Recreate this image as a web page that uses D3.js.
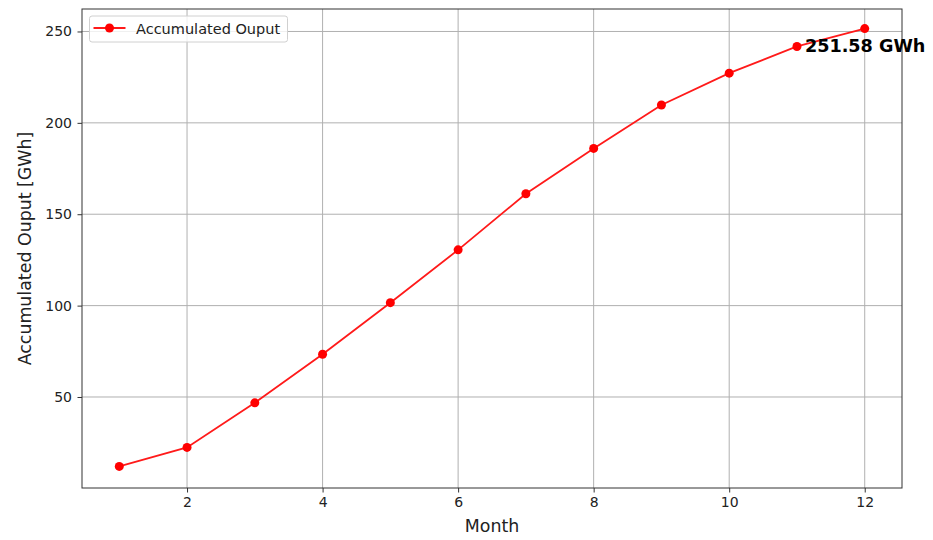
<!DOCTYPE html>
<html>
<head>
<meta charset="utf-8">
<script src="https://cdn.jsdelivr.net/npm/d3@7"></script>
<style>
  html, body { margin: 0; padding: 0; background: #fff; }
  svg { display: block; font-family: "DejaVu Sans", sans-serif; }
</style>
</head>
<body>
<svg id="chart" width="933" height="540"></svg>
<script>
// Monthly accumulated output (GWh)
const months = [1, 2, 3, 4, 5, 6, 7, 8, 9, 10, 11, 12];
const accumulated = [12.0, 22.4, 46.8, 73.4, 101.6, 130.5, 161.2, 186.0, 209.8, 227.2, 241.8, 251.58];
const xTicks = [2, 4, 6, 8, 10, 12];
const yTicks = [50, 100, 150, 200, 250];
const seriesName = "Accumulated Ouput";
const totalLabel = "251.58 GWh";

const svg = d3.select("#chart");
const plot = { left: 82, right: 902, top: 9, bottom: 488 };

const x = d3.scaleLinear().domain([0.45, 12.55]).range([plot.left, plot.right]);
const y = d3.scaleLinear().domain([0.2, 262.3]).range([plot.bottom, plot.top]);

// grid
const grid = svg.append("g").attr("stroke", "#b0b0b0").attr("stroke-width", 1);
grid.selectAll(".gx").data(xTicks).join("line")
  .attr("x1", d => x(d)).attr("x2", d => x(d))
  .attr("y1", plot.top).attr("y2", plot.bottom);
grid.selectAll(".gy").data(yTicks).join("line")
  .attr("x1", plot.left).attr("x2", plot.right)
  .attr("y1", d => y(d)).attr("y2", d => y(d));

// axes
const xAxis = svg.append("g")
  .attr("transform", `translate(0,${plot.bottom})`)
  .call(d3.axisBottom(x).tickValues(xTicks).tickSize(4.5).tickPadding(5));
const yAxis = svg.append("g")
  .attr("transform", `translate(${plot.left},0)`)
  .call(d3.axisLeft(y).tickValues(yTicks).tickSize(4.5).tickPadding(5.5));
[xAxis, yAxis].forEach(a => {
  a.select(".domain").remove();
  a.selectAll("line").attr("stroke", "#333");
  a.selectAll("text").attr("fill", "#222").style("font-size", "14px")
    .style("font-family", "DejaVu Sans, sans-serif");
});

// frame
svg.append("rect")
  .attr("x", plot.left).attr("y", plot.top)
  .attr("width", plot.right - plot.left).attr("height", plot.bottom - plot.top)
  .attr("fill", "none").attr("stroke", "#333").attr("stroke-width", 1);

// series
const line = d3.line().x((d, i) => x(months[i])).y(d => y(d));
svg.append("path").datum(accumulated)
  .attr("d", line).attr("fill", "none")
  .attr("stroke", "#ff1a1a").attr("stroke-width", 1.8);
svg.selectAll(".pt").data(accumulated).join("circle")
  .attr("cx", (d, i) => x(months[i])).attr("cy", d => y(d))
  .attr("r", 4.5).attr("fill", "red");

// total annotation beside month 11
svg.append("text")
  .attr("x", x(11) + 8).attr("y", y(accumulated[10]))
  .attr("dominant-baseline", "central")
  .style("font-size", "17.6px").style("font-weight", "bold")
  .attr("fill", "#000").text(totalLabel);

// axis titles
svg.append("text")
  .attr("x", (plot.left + plot.right) / 2).attr("y", 532)
  .attr("text-anchor", "middle").style("font-size", "17.4px").attr("fill", "#222")
  .text("Month");
svg.append("text")
  .attr("transform", `translate(31,${(plot.top + plot.bottom) / 2}) rotate(-90)`)
  .attr("text-anchor", "middle").style("font-size", "17.4px").attr("fill", "#222")
  .text("Accumulated Ouput [GWh]");

// legend
const lg = svg.append("g").attr("transform", "translate(89.5,16)");
lg.append("rect").attr("width", 198).attr("height", 26).attr("rx", 2.5)
  .attr("fill", "#fff").attr("fill-opacity", 0.8)
  .attr("stroke", "#d0d0d0").attr("stroke-width", 1);
lg.append("line").attr("x1", 4).attr("x2", 36).attr("y1", 12).attr("y2", 12)
  .attr("stroke", "#ff1a1a").attr("stroke-width", 1.8);
lg.append("circle").attr("cx", 20).attr("cy", 12).attr("r", 4.5).attr("fill", "red");
lg.append("text").attr("x", 46.5).attr("y", 12.5).attr("dominant-baseline", "central")
  .style("font-size", "14.5px").attr("fill", "#222").text(seriesName);
</script>
</body>
</html>
